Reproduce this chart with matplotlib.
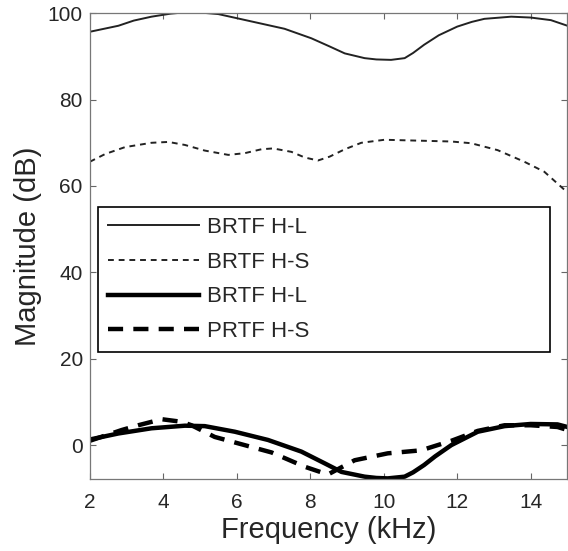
import matplotlib
matplotlib.use("Agg")
from matplotlib import pyplot as plt

plt.rcParams['font.family'] = ['Liberation Sans', 'DejaVu Sans']

# BRTF H-L (thin solid)
f_hl = [2.0, 2.78, 3.2, 3.68, 4.2, 4.59, 4.95, 5.5, 6.4, 7.3, 8.03, 8.53, 8.94, 9.48, 9.8,
        10.2, 10.57, 10.8, 11.1, 11.5, 12.0, 12.4, 12.74, 13.47, 14.0, 14.55, 15.0]
brtf_hl = [95.7, 97.1, 98.3, 99.2, 99.9, 100.2, 100.2, 99.8, 98.1, 96.4, 94.2, 92.3, 90.7,
           89.6, 89.3, 89.2, 89.6, 90.8, 92.7, 94.9, 96.9, 98.0, 98.7, 99.2, 99.0, 98.4, 97.1]

# BRTF H-S (thin dashed)
f_hs = [2.0, 2.42, 2.96, 3.68, 4.14, 4.59, 5.13, 5.77, 6.22, 6.67, 6.99, 7.49, 7.85, 8.21,
        8.53, 8.94, 9.39, 10.02, 10.93, 11.84, 12.38, 13.1, 13.83, 14.37, 15.0]
brtf_hs = [65.6, 67.4, 69.0, 70.0, 70.2, 69.5, 68.2, 67.2, 67.6, 68.5, 68.7, 67.9, 66.6, 65.9,
           66.8, 68.5, 70.0, 70.7, 70.5, 70.3, 69.9, 68.3, 65.6, 63.3, 58.5]

# second H-L (bold solid)
f_pl = [2.0, 2.78, 3.68, 4.59, 5.13, 5.95, 6.85, 7.76, 8.39, 8.85, 9.48, 9.8, 10.11, 10.57,
        10.8, 11.1, 11.4, 11.84, 12.56, 13.29, 14.0, 14.73, 15.0]
prtf_hl = [1.3, 2.7, 3.9, 4.5, 4.4, 3.1, 1.2, -1.5, -4.2, -6.2, -7.3, -7.6, -7.7, -7.3,
           -6.3, -4.6, -2.6, 0.0, 3.1, 4.4, 4.9, 4.8, 4.2]

# PRTF H-S (bold dashed)
f_ps = [2.0, 2.87, 3.32, 3.96, 4.5, 4.77, 5.4, 6.13, 6.95, 7.85, 8.48, 9.21, 10.11,
        11.02, 11.84, 12.56, 13.29, 14.0, 14.73, 15.0]
prtf_hs = [1.0, 3.5, 4.6, 6.0, 5.4, 4.6, 1.9, 0.2, -1.7, -5.0, -6.8, -3.5, -1.9,
           -1.2, 1.0, 3.3, 4.6, 4.6, 4.2, 3.5]

labels = ['BRTF H-L', 'BRTF H-S', 'BRTF H-L', 'PRTF H-S']
xticks = [2, 4, 6, 8, 10, 12, 14]
yticks = [0, 20, 40, 60, 80, 100]

txt = '#262626'

fig = plt.figure(figsize=(5.68, 5.51), dpi=100)
ax = fig.add_axes([0.158, 0.131, 0.841, 0.845])

ax.plot(f_hl, brtf_hl, color='#222222', lw=1.4, label=labels[0])
ax.plot(f_hs, brtf_hs, color='#222222', lw=1.4, dashes=(3, 2.5), label=labels[1])
ax.plot(f_pl, prtf_hl, color='black', lw=3.2, label=labels[2])
ax.plot(f_ps, prtf_hs, color='black', lw=3.2, dashes=(3.4, 2.3), label=labels[3])

ax.set_xlim(2, 15)
ax.set_ylim(-7.8, 100)
ax.set_xticks(xticks)
ax.set_yticks(yticks)
ax.tick_params(direction='in', length=4, width=0.8, color='#666666',
               labelsize=15, labelcolor=txt, top=True, right=True)
ax.tick_params(axis='y', pad=5)
ax.tick_params(axis='x', pad=10)
for s in ax.spines.values():
    s.set_color('#777777')
    s.set_linewidth(0.9)

ax.set_xlabel('Frequency (kHz)', fontsize=21, color=txt, labelpad=3)
ax.set_ylabel('Magnitude (dB)', fontsize=21, color=txt, labelpad=4)

leg = ax.legend(loc='upper left', bbox_to_anchor=(0.018, 0.275, 0.945, 0.309),
                mode='expand', fontsize=16, handlelength=4.1, handletextpad=0.35,
                labelspacing=0.62, borderpad=0.45, borderaxespad=0.0,
                fancybox=False, framealpha=1, edgecolor='black')
leg.get_frame().set_linewidth(1.2)
for t in leg.get_texts():
    t.set_color(txt)

fig.savefig('out.png', dpi=100)
